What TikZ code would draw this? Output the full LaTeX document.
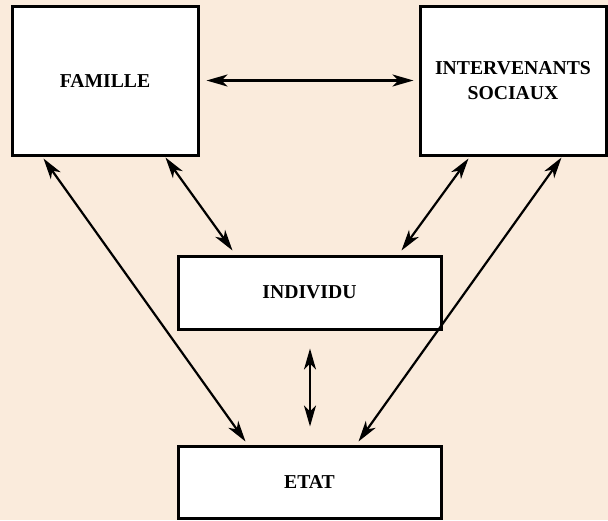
\documentclass[tikz,border=0pt]{standalone}
\usepackage{fontspec}
\setmainfont{Liberation Serif}
\usetikzlibrary{arrows.meta}
\definecolor{bgc}{RGB}{250,235,220}
\begin{document}
\begin{tikzpicture}[x=1pt,y=-1pt,
  box/.style={draw=black, line width=3pt, fill=white, inner sep=0pt,
    font=\fontsize{19.7}{25}\selectfont\bfseries, align=center},
  arr/.style={line width=2.2pt, {Stealth[length=21pt,width=12pt,inset=6pt]}-{Stealth[length=21pt,width=12pt,inset=6pt]}}]
\fill[bgc] (0,0) rectangle (608,520);
\useasboundingbox (0,0) rectangle (608,520);
\node[box, minimum width=186pt, minimum height=149pt] (fam) at (105,80.5) {FAMILLE};
\node[box, minimum width=186pt, minimum height=149pt] (int) at (513,80.5) {INTERVENANTS\\SOCIAUX};
\node[box, minimum width=263pt, minimum height=73pt] (ind) at (309.5,292.5) {INDIVIDU};
\node[box, minimum width=263pt, minimum height=72pt] (etat) at (309.5,482) {ETAT};
\draw[arr] ([xshift=7pt]fam.east) -- ([xshift=-5pt]int.west);
\draw[arr] ([xshift=155pt,yshift=-1pt]fam.south west) -- ([xshift=56pt,yshift=4pt]ind.north west);
\draw[arr] ([xshift=50pt,yshift=-2pt]int.south west) -- ([xshift=225pt,yshift=4pt]ind.north west);
\draw[arr] ([xshift=33pt,yshift=-2pt]fam.south west) -- ([xshift=69pt,yshift=3pt]etat.north west);
\draw[arr] ([xshift=143pt,yshift=-1pt]int.south west) -- ([xshift=182pt,yshift=3pt]etat.north west);
\draw[arr] ([xshift=0.5pt,yshift=-18pt]ind.south) -- ([xshift=0.5pt,yshift=18pt]etat.north);
\end{tikzpicture}
\end{document}
